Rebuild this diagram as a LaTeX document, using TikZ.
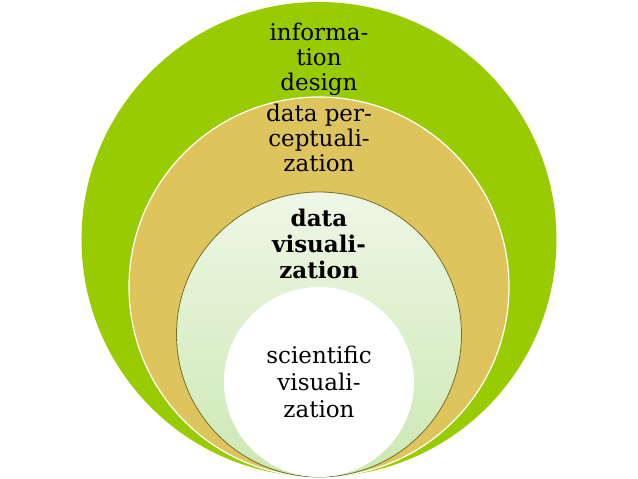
\documentclass[tikz,border=0pt]{standalone}
\usepackage{fontspec}
\setmainfont{DejaVu Serif}
\usepackage{tikz}
\definecolor{infogreen}{RGB}{153,204,0}
\definecolor{percepttan}{RGB}{221,196,92}
\definecolor{vistop}{RGB}{238,247,230}
\definecolor{visbottom}{RGB}{204,232,178}
\definecolor{visedge}{RGB}{112,112,40}

\begin{document}
\begin{tikzpicture}[x=1pt,y=1pt,
  ringtext/.style={align=center,font=\fontsize{23}{25}\selectfont,text=black}]
\useasboundingbox (-319,-2) rectangle (319,477);
% nested rings, all touching at the bottom
\fill[infogreen] (0,237.5) circle (237.5);
\filldraw[fill=percepttan,draw=white,line width=1.2pt] (0,190) circle (190);
\shade[top color=vistop,bottom color=visbottom] (0,142.5) circle (142.5);
\draw[visedge,line width=0.8pt] (0,142.5) circle (142.5);
\fill[white] (0,95) circle (95);
\node[ringtext] (info) at (0,417.5) {informa-\\tion\\design};
\node[ringtext] (percept) at (0,339) {data per-\\ceptuali-\\zation};
\node[ringtext,font=\fontsize{23}{26}\selectfont\bfseries] (datavis) at (0,233) {data\\visuali-\\zation};
\node[ringtext,font=\fontsize{23}{27}\selectfont] (scivis) at (0,95.5) {scientific\\visuali-\\zation};
\end{tikzpicture}
\end{document}
